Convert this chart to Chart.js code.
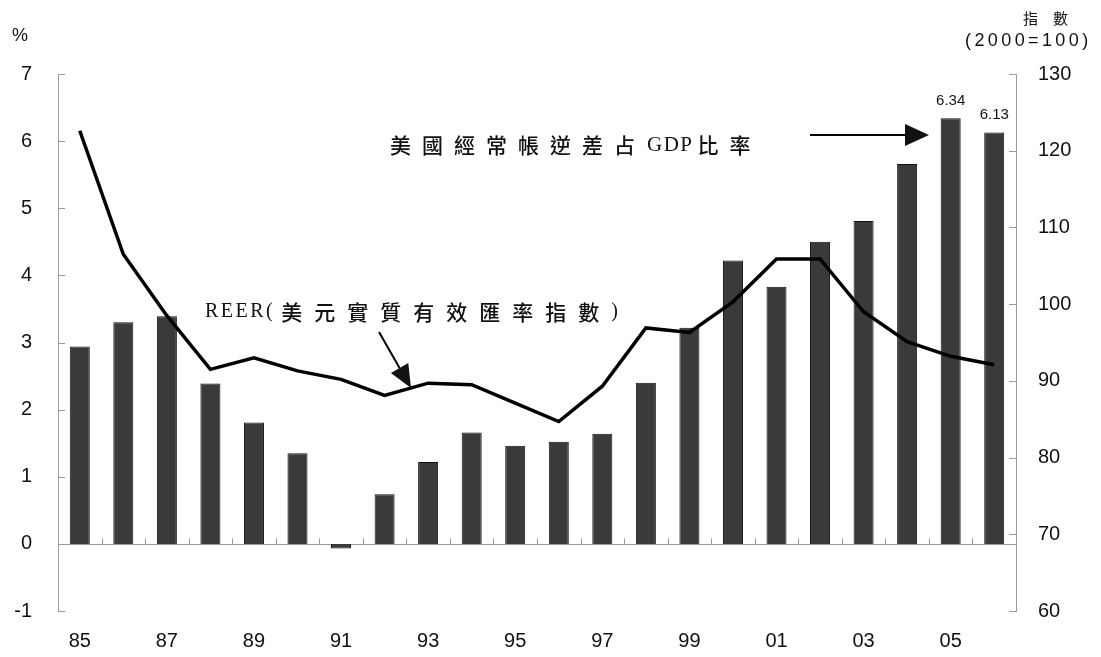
<!DOCTYPE html>
<html>
<head>
<meta charset="utf-8">
<script src="https://cdn.jsdelivr.net/npm/chart.js@4.4.0/dist/chart.umd.min.js"></script>
<style>
  html, body { margin: 0; padding: 0; background: #fff; }
</style>
</head>
<body>
<canvas id="chart" width="1101" height="657"></canvas>
<script>
// years 1985 - 2006
const years = ["85", "86", "87", "88", "89", "90", "91", "92", "93", "94", "95",
               "96", "97", "98", "99", "00", "01", "02", "03", "04", "05", "06"];
// US current account deficit, % of GDP (left axis)
const deficitPct = [2.94, 3.30, 3.39, 2.39, 1.81, 1.35, -0.07, 0.74, 1.22, 1.66, 1.46,
                    1.52, 1.64, 2.40, 3.22, 4.22, 3.83, 4.50, 4.81, 5.66, 6.34, 6.13];
// REER index, 2000=100 (right axis)
const reerIndex = [122.6, 106.5, 98.5, 91.5, 93.0, 91.3, 90.2, 88.1, 89.7, 89.5, 87.1,
                   84.7, 89.3, 96.9, 96.3, 100.3, 105.9, 105.9, 99.0, 95.1, 93.2, 92.1];
const leftRange = [-1, 7];
const rightRange = [60, 130];
const labelled = ["05", "06"];

const numFont = '"Liberation Sans", Arial, sans-serif';
const cjkFont = '"Noto Sans CJK TC", "Noto Sans CJK SC", sans-serif';
const latFont = '"Liberation Serif", "Times New Roman", serif';
const ink = '#111';
const axisGrey = '#9a9a9a';

function spaced(ctx, text, x, y, gap) {
  for (const ch of text) {
    ctx.fillText(ch, x, y);
    x += ctx.measureText(ch).width + gap;
  }
  return x;
}

function arrow(ctx, x1, y1, x2, y2, len, half) {
  const a = Math.atan2(y2 - y1, x2 - x1);
  const bx = x2 - len * Math.cos(a), by = y2 - len * Math.sin(a);
  ctx.beginPath();
  ctx.moveTo(x1, y1);
  ctx.lineTo(bx, by);
  ctx.stroke();
  ctx.beginPath();
  ctx.moveTo(x2, y2);
  ctx.lineTo(bx + half * Math.sin(a), by - half * Math.cos(a));
  ctx.lineTo(bx - half * Math.sin(a), by + half * Math.cos(a));
  ctx.closePath();
  ctx.fill();
}

const decor = {
  id: 'decor',
  beforeDatasetsDraw(chart) {
    const {ctx, chartArea: a, scales: {x, y, y1}} = chart;
    ctx.save();
    ctx.strokeStyle = axisGrey;
    ctx.lineWidth = 1;
    const y0 = Math.round(y.getPixelForValue(0)) + 0.5;
    ctx.beginPath();
    ctx.moveTo(a.left, y0);
    ctx.lineTo(a.right, y0);
    // small marks between categories
    for (let i = 1; i < years.length; i++) {
      const xb = Math.round((x.getPixelForValue(i - 1) + x.getPixelForValue(i)) / 2) + 0.5;
      ctx.moveTo(xb, y0);
      ctx.lineTo(xb, y0 - 6);
    }
    y.ticks.forEach(t => {
      const py = Math.round(y.getPixelForValue(t.value)) + 0.5;
      ctx.moveTo(a.left, py);
      ctx.lineTo(a.left + 7, py);
    });
    y1.ticks.forEach(t => {
      const py = Math.round(y1.getPixelForValue(t.value)) + 0.5;
      ctx.moveTo(a.right - 7, py);
      ctx.lineTo(a.right, py);
    });
    ctx.stroke();
    ctx.restore();
  },
  afterDatasetsDraw(chart) {
    const {ctx} = chart;
    ctx.save();
    ctx.fillStyle = ink;
    ctx.strokeStyle = '#000';

    // value labels on the last bars
    const bars = chart.getDatasetMeta(1).data;
    ctx.font = '15px ' + numFont;
    ctx.textAlign = 'center';
    ctx.textBaseline = 'alphabetic';
    labelled.forEach(lab => {
      const i = years.indexOf(lab);
      ctx.fillText(deficitPct[i].toFixed(2), bars[i].x, bars[i].y - 13);
    });

    // axis titles
    ctx.textAlign = 'left';
    ctx.font = '18px ' + numFont;
    ctx.fillText('%', 12, 41);
    ctx.textBaseline = 'middle';
    ctx.font = '15px ' + cjkFont;
    spaced(ctx, '指數', 1023, 18, 15);
    ctx.font = '18px ' + numFont;
    spaced(ctx, '(2000=100)', 965, 41, 3.4);

    // annotation: current account deficit
    let cx = 390;
    ctx.font = '500 21px ' + cjkFont;
    cx = spaced(ctx, '美國經常帳逆差占', cx, 145, 11);
    ctx.font = '21px ' + latFont;
    cx = spaced(ctx, 'GDP', cx + 1, 145, 1.5);
    ctx.font = '500 21px ' + cjkFont;
    spaced(ctx, '比率', cx + 4, 145, 11);
    ctx.lineWidth = 2;
    arrow(ctx, 810, 135, 929, 135, 24, 11);

    // annotation: REER
    cx = 205;
    ctx.font = '20px ' + latFont;
    cx = spaced(ctx, 'REER(', cx, 312, 2.5);
    ctx.font = '500 21px ' + cjkFont;
    cx = spaced(ctx, '美元實質有效匯率指數', cx + 6, 312, 12);
    ctx.font = '20px ' + latFont;
    ctx.fillText(')', cx, 312);
    arrow(ctx, 379, 332, 411, 388, 23, 10);

    ctx.restore();
  }
};

new Chart(document.getElementById('chart'), {
  data: {
    labels: years,
    datasets: [
      {
        type: 'line',
        label: 'REER',
        data: reerIndex,
        yAxisID: 'y1',
        borderColor: '#000',
        borderWidth: 3.5,
        pointRadius: 0,
        tension: 0,
        order: 0
      },
      {
        type: 'bar',
        label: '美國經常帳逆差占GDP比率',
        data: deficitPct,
        yAxisID: 'y',
        backgroundColor: '#3a3a3a',
        borderColor: '#111',
        borderWidth: 1,
        barPercentage: 0.46,
        categoryPercentage: 1,
        order: 1
      }
    ]
  },
  options: {
    responsive: false,
    devicePixelRatio: 1,
    animation: false,
    layout: { padding: { top: 74, left: 0, right: 0, bottom: 0 } },
    plugins: { legend: { display: false }, tooltip: { enabled: false } },
    scales: {
      x: {
        offset: true,
        grid: { display: false },
        border: { display: false },
        ticks: {
          autoSkip: false,
          maxRotation: 0,
          padding: 10,
          color: ink,
          font: { family: numFont, size: 20 },
          callback: (v, i) => (i % 2 === 0 ? years[i] : '')
        },
        afterFit(s) { s.height = 46; }
      },
      y: {
        position: 'left',
        min: leftRange[0],
        max: leftRange[1],
        ticks: { stepSize: 1, padding: 18, color: ink, font: { family: numFont, size: 20 } },
        grid: { display: false },
        border: { display: true, color: axisGrey, width: 1 },
        afterFit(s) { s.width = 58; }
      },
      y1: {
        position: 'right',
        min: rightRange[0],
        max: rightRange[1],
        ticks: { stepSize: 10, padding: 14, color: ink, font: { family: numFont, size: 20 } },
        grid: { display: false },
        border: { display: true, color: axisGrey, width: 1 },
        afterFit(s) { s.width = 85; }
      }
    }
  },
  plugins: [decor]
});
</script>
</body>
</html>
